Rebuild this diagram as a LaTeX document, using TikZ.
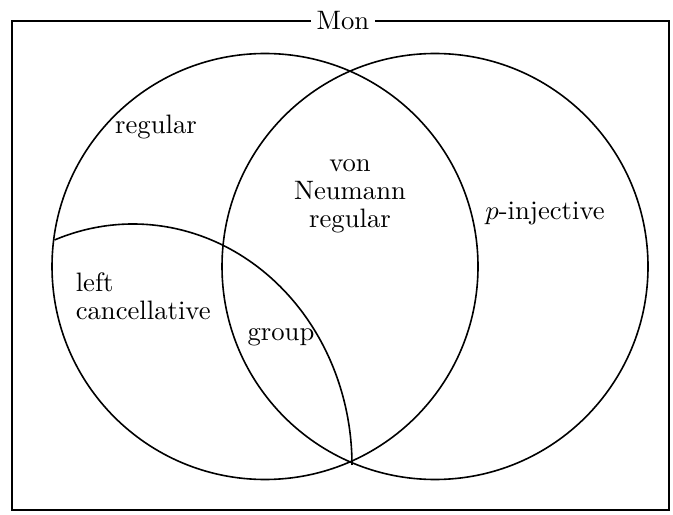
\documentclass[tikz,border=0pt]{standalone}
\usepackage{amsmath,amssymb}
\usepackage{tikz}

\begin{document}
\begin{tikzpicture}[
      x=0.375pt,
      y=0.375pt,
      line width=0.6pt,
      region/.style={align=center, inner sep=0pt, font=\fontsize{10}{10.5}\selectfont},
      set/.style={draw}
    ]
    \useasboundingbox (0,0) rectangle (673,514);
    \draw (12,493) rectangle (669,4);
    \node (mon) [fill=white, inner sep=2pt] at (343,493) {Mon};
    \draw [set] (265,247.5) circle [radius=213];
    \draw [set] (435,247.5) circle [radius=213];
    \draw [set] (54.5,274) arc [start angle=111, end angle=0, x radius=219, y radius=241];
    \node (reg) [region] at (156,387) {regular};
    \node (vnr) [region] at (350,318) {von\\Neumann\\regular};
    \node (pinj) [region] at (545,301) {$p$-injective};
    \node (lc) [region, align=left, anchor=west] at (75,218) {left\\cancellative};
    \node (grp) [region] at (281,177) {group};
  \end{tikzpicture}
\end{document}
